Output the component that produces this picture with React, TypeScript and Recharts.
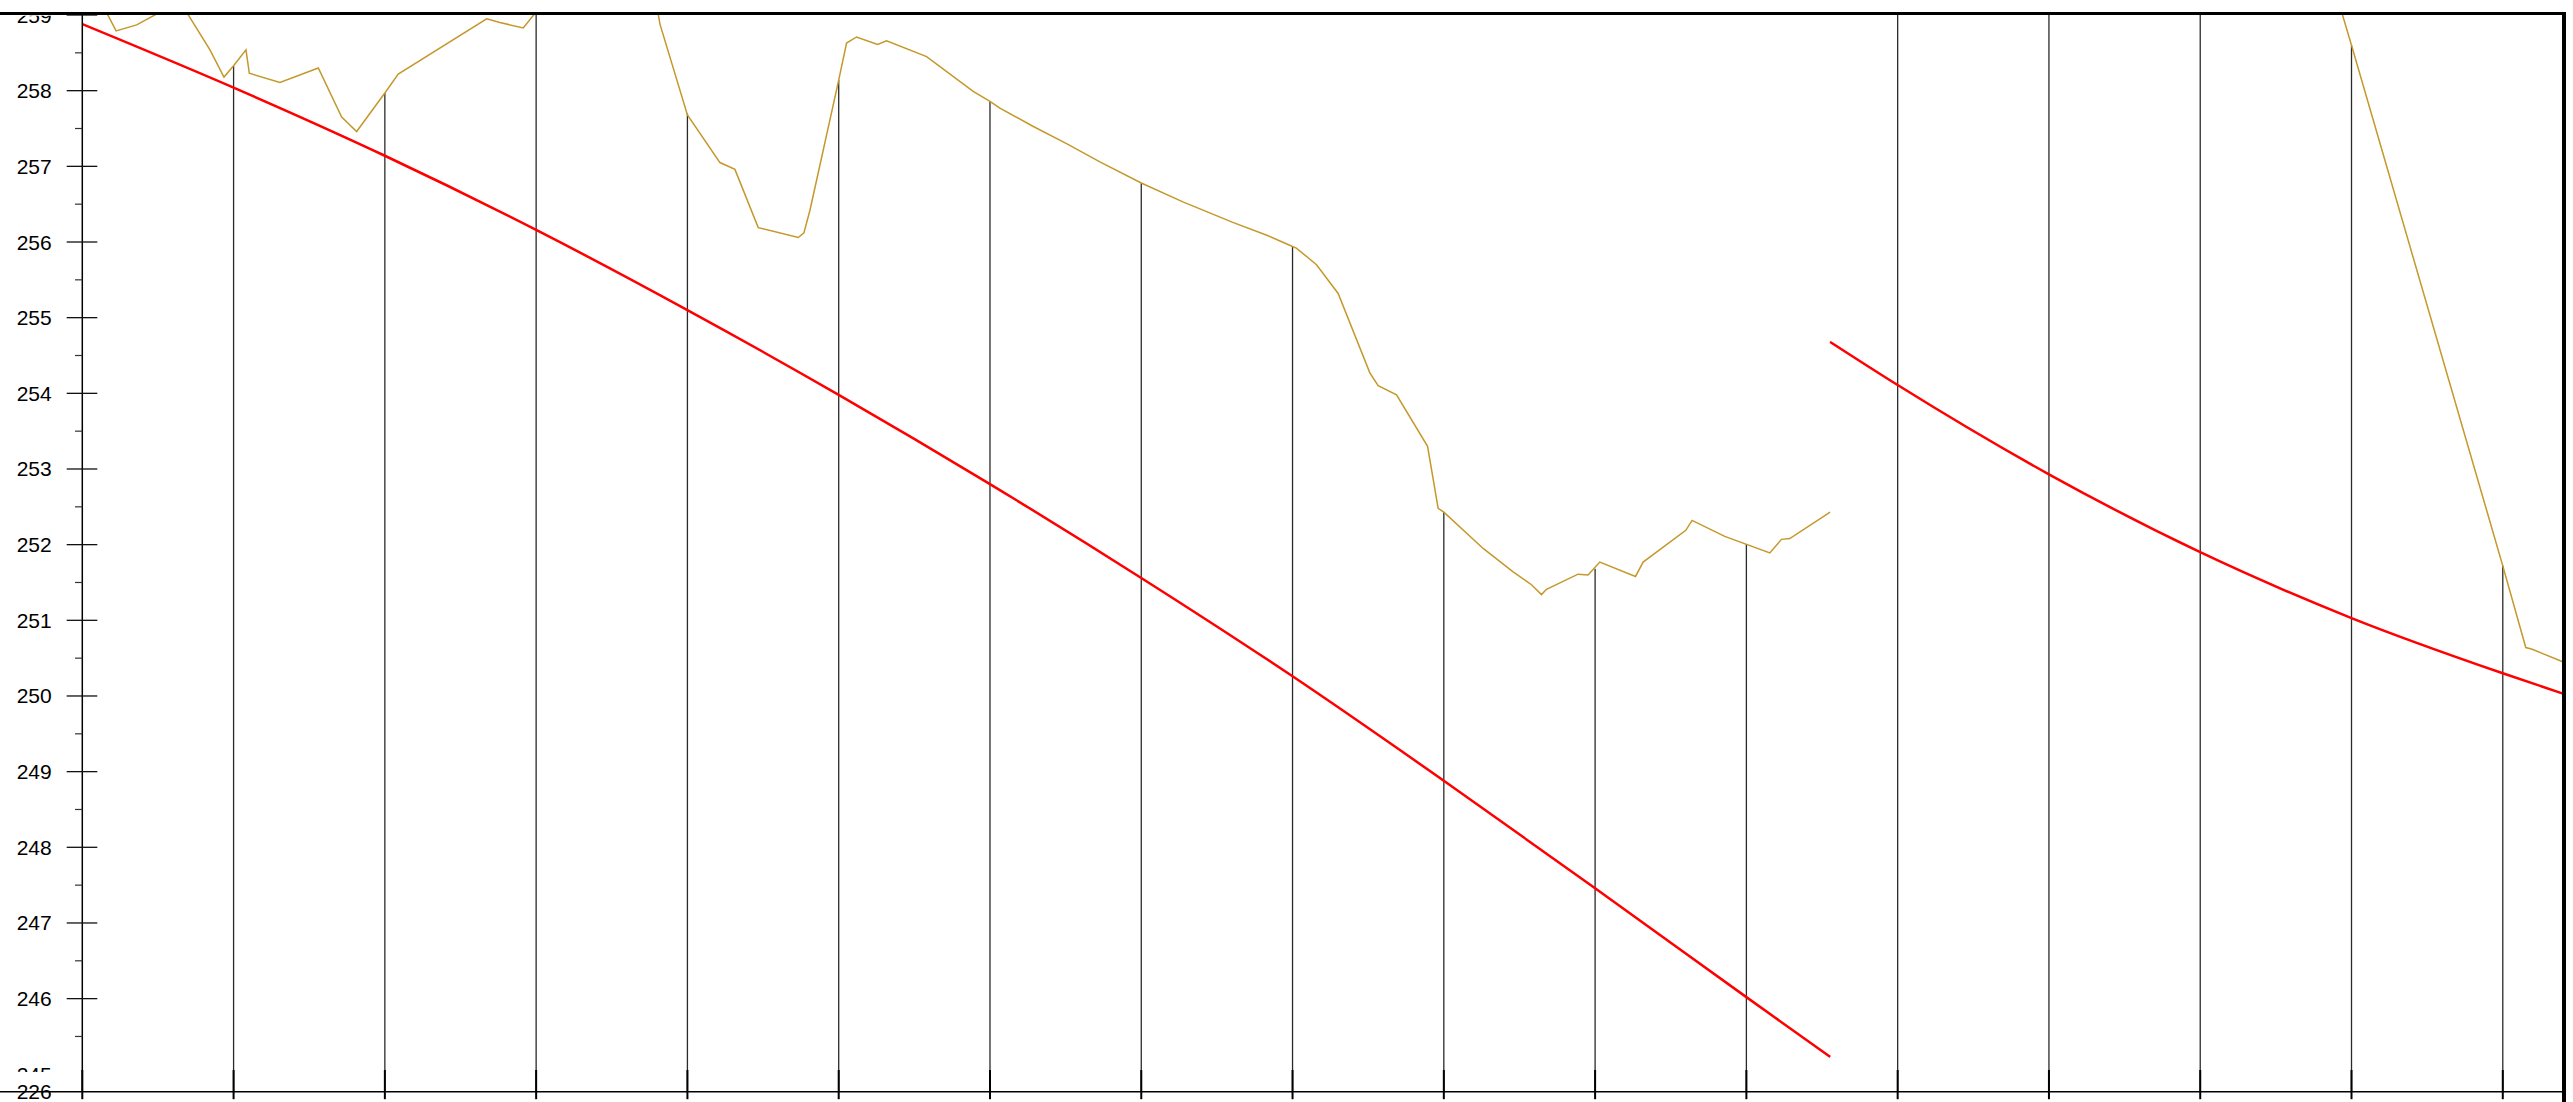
import React from "react";
import { LineChart, Line, XAxis, YAxis, ReferenceLine } from "recharts";

const FONT = "'Liberation Sans', Arial, sans-serif";

// chainage (m) of the station lines drawn down from the ground
const profileStations = [20, 40, 60, 80, 100, 120, 140, 160, 180, 200, 220, 240, 260, 280, 300, 320];
// ground level at each station, null = ground above the top of the sheet
const profileGround: (number | null)[] = [
  258.33, 257.97, null, 257.7, 258.14, 257.86, 256.78, 255.94,
  252.43, 251.68, 252.01, null, null, null, 258.6, 251.72,
];
const axisStations = [0, ...profileStations];

// existing ground, first stretch
const groundChainageA = [
  0, 4.47, 7.19, 12.9, 16.88, 18.73, 20, 21.64, 22.08, 26.13, 31.2, 34.29, 36.27, 40, 41.77,
  53.46, 55.21, 58.29, 67, 74.5, 76.37, 80, 84.3, 86.28, 89.36, 94.65, 95.4, 96.2, 100,
  101.04, 102.36, 105.14, 106.33, 111.62, 117.78, 120, 121.31, 125.67, 130.12, 134.53, 140,
  145.5, 152.1, 156.6, 160, 160.5, 163.17, 166.03, 170.22, 171.32, 173.75, 177.85, 179.25,
  180, 185.2, 189.16, 191.59, 192.91, 193.57, 197.75, 199.07, 200.62, 205.34, 206.35,
  211.99, 212.82, 217.14, 223.1, 224.64, 225.74, 231.07,
];
const groundLevelA = [
  259.65, 258.79, 258.87, 259.18, 258.54, 258.18, 258.33, 258.54, 258.23, 258.11, 258.3, 257.65, 257.46, 257.97, 258.22,
  258.95, 258.9, 258.83, 259.9, 259.95, 258.88, 257.68, 257.05, 256.96, 256.19, 256.06, 256.12, 256.42, 258.14,
  258.63, 258.71, 258.61, 258.66, 258.45, 257.99, 257.86, 257.77, 257.53, 257.3, 257.06, 256.78,
  256.53, 256.26, 256.09, 255.94, 255.92, 255.7, 255.32, 254.27, 254.1, 253.98, 253.3, 252.48,
  252.43, 251.95, 251.64, 251.47, 251.34, 251.41, 251.61, 251.6, 251.77, 251.58, 251.77,
  252.19, 252.32, 252.11, 251.89, 252.07, 252.08, 252.43,
];

// existing ground, second stretch
const groundChainageB = [296, 300, 320, 323.04, 323.8, 328];
const groundLevelB = [259.95, 258.6, 251.72, 250.64, 250.62, 250.45];

// design grade line
const designChainageA = [0, 20, 40, 60, 80, 100, 120, 140, 160, 180, 200, 220, 231.07];
const designLevelA = [258.88, 258.04, 257.14, 256.16, 255.1, 253.98, 252.8, 251.56, 250.26, 248.88, 247.46, 246.02, 245.23];
const designChainageB = [231.07, 240, 260, 280, 300, 320, 328];
const designLevelB = [254.68, 254.11, 252.93, 251.9, 251.03, 250.3, 250.03];

const levelMin = 244.77;
const levelMax = 259.02;
const levelTicks = [
  levelMin, 245, 245.5, 246, 246.5, 247, 247.5, 248, 248.5, 249, 249.5, 250, 250.5, 251, 251.5,
  252, 252.5, 253, 253.5, 254, 254.5, 255, 255.5, 256, 256.5, 257, 257.5, 258, 258.5, 259,
];
const bottomLabel = "226";

const zip = (xs: number[], ys: number[]) => xs.map((x, i) => ({ x, y: ys[i] }));
const groundA = zip(groundChainageA, groundLevelA);
const groundB = zip(groundChainageB, groundLevelB);
const designA = zip(designChainageA, designLevelA);
const designB = zip(designChainageB, designLevelB);

const W = 2573;
const H = 1102;
const LEFT = 82.3;
const GROUND = "#C4982A";
const labelStyle = { fontFamily: FONT, fontSize: 21, fill: "#000" };

function LevelTick(props: any) {
  const { x, y, payload } = props;
  const v: number = payload.value;
  const labelX = x - 30.6;

  if (v === levelMin) {
    return (
      <g>
        <line x1={0} x2={x} y1={y} y2={y} stroke="#000" strokeWidth={1.5} />
        <text x={labelX} y={y + 7.5} textAnchor="end" style={labelStyle}>
          {bottomLabel}
        </text>
      </g>
    );
  }

  if (!Number.isInteger(v)) {
    return <line x1={x - 7.3} x2={x} y1={y} y2={y} stroke="#333" strokeWidth={1.2} />;
  }

  // top and bottom labels are partly covered by the sheet frame
  let clip: React.ReactNode = null;
  let clipId: string | undefined;
  if (v === 259) {
    clipId = "clip-top-label";
    clip = <rect x={0} y={y + 0.7} width={x} height={40} />;
  } else if (v === 245) {
    clipId = "clip-bottom-label";
    clip = <rect x={0} y={y - 30} width={x} height={27.6} />;
  }

  return (
    <g>
      {clip && (
        <defs>
          <clipPath id={clipId}>{clip}</clipPath>
        </defs>
      )}
      {v !== 245 && (
        <line x1={x - 15.6} x2={x + 15} y1={y} y2={y} stroke="#111" strokeWidth={1.3} />
      )}
      <text
        x={labelX}
        y={y + 7.5}
        textAnchor="end"
        style={labelStyle}
        clipPath={clipId ? `url(#${clipId})` : undefined}
      >
        {v}
      </text>
    </g>
  );
}

function StationTick(props: any) {
  const { x, y } = props;
  return <line x1={x} x2={x} y1={y - 21.7} y2={y + 7.5} stroke="#000" strokeWidth={2} />;
}

export default function App() {
  return (
    <div style={{ position: "absolute", left: 0, top: 0, width: W, height: H, background: "#fff" }}>
      <LineChart width={W} height={H} margin={{ top: 13.5, right: 9.7, bottom: 0, left: 0 }}>
        <XAxis
          type="number"
          dataKey="x"
          domain={[0, 328]}
          ticks={axisStations}
          interval={0}
          allowDataOverflow
          height={10.3}
          tickSize={0}
          tickMargin={0}
          tickLine={false}
          axisLine={{ stroke: "#000", strokeWidth: 1.5 }}
          tick={StationTick}
        />
        <YAxis
          type="number"
          domain={[levelMin, levelMax]}
          ticks={levelTicks}
          interval={0}
          allowDataOverflow
          width={LEFT}
          tickSize={0}
          tickMargin={0}
          tickLine={false}
          axisLine={{ stroke: "#000", strokeWidth: 1.5 }}
          tick={LevelTick}
        />
        {profileStations.map((s, i) => (
          <ReferenceLine
            key={s}
            segment={[
              { x: s, y: levelMin },
              { x: s, y: profileGround[i] ?? levelMax },
            ]}
            stroke="#2a2a2a"
            strokeWidth={1.3}
          />
        ))}
        <Line data={groundA} dataKey="y" type="linear" stroke={GROUND} strokeWidth={1.5} dot={false} isAnimationActive={false} />
        <Line data={groundB} dataKey="y" type="linear" stroke={GROUND} strokeWidth={1.5} dot={false} isAnimationActive={false} />
        <Line data={designA} dataKey="y" type="monotone" stroke="#FF0000" strokeWidth={2.5} dot={false} isAnimationActive={false} />
        <Line data={designB} dataKey="y" type="monotone" stroke="#FF0000" strokeWidth={2.5} dot={false} isAnimationActive={false} />
      </LineChart>
      {/* sheet frame */}
      <div style={{ position: "absolute", left: 0, top: 11.75, width: 2565.5, height: 3.5, background: "#000" }} />
      <div style={{ position: "absolute", left: 2561.5, top: 11.75, width: 4, height: H - 11.75, background: "#000" }} />
    </div>
  );
}
